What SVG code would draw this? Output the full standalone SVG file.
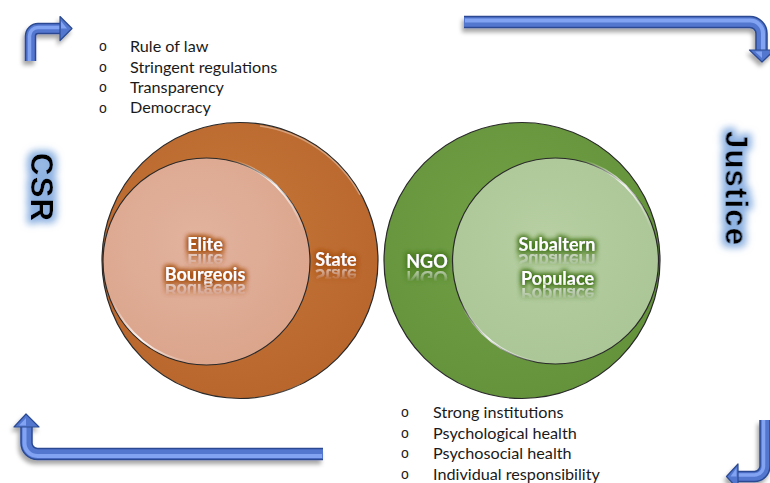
<svg xmlns="http://www.w3.org/2000/svg" width="770" height="483" viewBox="0 0 770 483">
<style>
.list{font-family:Lato,"Liberation Sans",sans-serif;font-size:16.2px;fill:#1a1a1a}
.bul{font-family:"Liberation Sans",sans-serif;font-size:14px;fill:#1a1a1a;text-anchor:middle}
.lbl{font-family:Lato,"Liberation Sans",sans-serif;font-weight:bold;font-size:18px;fill:#ffffff;text-anchor:middle}
.side{font-family:"Liberation Sans",Arial,sans-serif;font-weight:bold;font-size:31px;fill:#000;text-anchor:middle}
.ring{stroke:#2a2a2a;stroke-width:1.2}
.arrD{fill:none;stroke:#2c4a92;stroke-linejoin:round}
.arrM{fill:none;stroke:#5277cf;stroke-linejoin:round}
.arrL{fill:none;stroke:#82a3f2;stroke-linejoin:round}
</style>
<defs>
<radialGradient id="gOrange" cx="0.45" cy="0.4" r="0.65">
<stop offset="0" stop-color="#c67739"/><stop offset="1" stop-color="#b8652c"/>
</radialGradient>
<radialGradient id="gPeach" cx="0.45" cy="0.4" r="0.65">
<stop offset="0" stop-color="#e2b39e"/><stop offset="1" stop-color="#dba48b"/>
</radialGradient>
<radialGradient id="gGreen" cx="0.45" cy="0.4" r="0.65">
<stop offset="0" stop-color="#72a046"/><stop offset="1" stop-color="#63923b"/>
</radialGradient>
<radialGradient id="gLime" cx="0.45" cy="0.4" r="0.65">
<stop offset="0" stop-color="#b7cfa2"/><stop offset="1" stop-color="#aac596"/>
</radialGradient>
<linearGradient id="refl" x1="0" y1="0" x2="0" y2="1">
<stop offset="0.35" stop-color="#fff" stop-opacity="0"/>
<stop offset="0.85" stop-color="#fff" stop-opacity="0.75"/>
</linearGradient>
<linearGradient id="shine" x1="0" y1="0" x2="1" y2="1">
<stop offset="0" stop-color="#fff" stop-opacity="0"/>
<stop offset="0.5" stop-color="#fff" stop-opacity="0.9"/>
<stop offset="1" stop-color="#fff" stop-opacity="0"/>
</linearGradient>
<filter id="glowO" x="-30%" y="-60%" width="160%" height="220%">
<feMorphology in="SourceAlpha" operator="dilate" radius="1.2" result="d"/>
<feGaussianBlur in="d" stdDeviation="2.4" result="b"/>
<feFlood flood-color="#a95318"/>
<feComposite in2="b" operator="in" result="g"/>
<feMerge><feMergeNode in="g"/><feMergeNode in="g"/><feMergeNode in="SourceGraphic"/></feMerge>
</filter>
<filter id="glowG" x="-30%" y="-60%" width="160%" height="220%">
<feMorphology in="SourceAlpha" operator="dilate" radius="1.2" result="d"/>
<feGaussianBlur in="d" stdDeviation="2.4" result="b"/>
<feFlood flood-color="#4a7a24"/>
<feComposite in2="b" operator="in" result="g"/>
<feMerge><feMergeNode in="g"/><feMergeNode in="g"/><feMergeNode in="SourceGraphic"/></feMerge>
</filter>
<filter id="glowB" x="-60%" y="-40%" width="220%" height="180%">
<feMorphology in="SourceAlpha" operator="dilate" radius="4" result="d"/>
<feGaussianBlur in="d" stdDeviation="3.5" result="b"/>
<feFlood flood-color="#8fb3e2"/>
<feComposite in2="b" operator="in" result="g"/>
<feMerge><feMergeNode in="g"/><feMergeNode in="SourceGraphic"/></feMerge>
</filter>
<filter id="shadow" x="-20%" y="-20%" width="140%" height="160%">
<feDropShadow dx="-2" dy="4" stdDeviation="2" flood-color="#000" flood-opacity="0.35"/>
</filter>
</defs>
<rect width="770" height="483" fill="#ffffff"/>

<g id="connectors" filter="url(#shadow)">
<g id="arrow-top-left">
<path class="arrD" stroke-width="11.5" d="M30.5,61 V36 A7.5,7.5 0 0 1 38,28.5 H61"/>
<path class="arrM" stroke-width="8.5" d="M30.5,61 V36 A7.5,7.5 0 0 1 38,28.5 H61"/>
<path class="arrL" stroke-width="3.5" d="M29.5,61 V36 A8.5,8.5 0 0 1 38,27.5 H61"/>
<polygon points="60,16.5 72,28.5 60,40.5" fill="#5277cf" stroke="#2c4a92" stroke-width="1.2" stroke-linejoin="round"/>
<polygon points="61,21 67,28.5 61,28.5" fill="#82a3f2"/>
</g>
<g id="arrow-top-right">
<path class="arrD" stroke-width="12.5" d="M464,22 H750 A11.5,11.5 0 0 1 761.5,33.5 V50"/>
<path class="arrM" stroke-width="9.5" d="M464,22 H750 A11.5,11.5 0 0 1 761.5,33.5 V50"/>
<path class="arrL" stroke-width="4" d="M465,20.5 H750 A13,13 0 0 1 763,33.5 V50"/>
<polygon points="749.5,50 774.5,50 762,62" fill="#5277cf" stroke="#2c4a92" stroke-width="1.2" stroke-linejoin="round"/>
<polygon points="755,51.5 762,51.5 762,58" fill="#82a3f2"/>
</g>
<g id="arrow-bottom-left">
<path class="arrD" stroke-width="12.5" d="M323,454 H37.5 A11,11 0 0 1 26.5,443 V427"/>
<path class="arrM" stroke-width="9.5" d="M323,454 H37.5 A11,11 0 0 1 26.5,443 V427"/>
<path class="arrL" stroke-width="4" d="M322,456 H37.5 A13,13 0 0 1 24.5,443 V427"/>
<polygon points="14,427 39,427 26,414" fill="#5277cf" stroke="#2c4a92" stroke-width="1.2" stroke-linejoin="round"/>
<polygon points="19,425.5 26,425.5 26,418" fill="#82a3f2"/>
</g>
<g id="arrow-bottom-right">
<path class="arrD" stroke-width="11.5" d="M765,420 V466 A10.5,10.5 0 0 1 754.5,476.5 H738"/>
<path class="arrM" stroke-width="8.5" d="M765,420 V466 A10.5,10.5 0 0 1 754.5,476.5 H738"/>
<path class="arrL" stroke-width="3.5" d="M763.5,420 V466 A9,9 0 0 1 754.5,475 H738"/>
<polygon points="738,464 738,489 726.5,476.5" fill="#5277cf" stroke="#2c4a92" stroke-width="1.2" stroke-linejoin="round"/>
<polygon points="736.5,468 736.5,476.5 730.5,476.5" fill="#82a3f2"/>
</g>
</g>

<g id="list-top">
<text class="bul" x="103" y="51">o</text>
<text class="bul" x="103" y="72">o</text>
<text class="bul" x="103" y="92">o</text>
<text class="bul" x="103" y="113">o</text>
<text class="list" x="130" y="51.5">Rule of law</text>
<text class="list" x="130" y="72.5">Stringent regulations</text>
<text class="list" x="130" y="92.5">Transparency</text>
<text class="list" x="130" y="113">Democracy</text>
</g>

<g id="list-bottom">
<text class="bul" x="405" y="417">o</text>
<text class="bul" x="405" y="438">o</text>
<text class="bul" x="405" y="458">o</text>
<text class="bul" x="405" y="479">o</text>
<text class="list" x="433" y="417.5">Strong institutions</text>
<text class="list" x="433" y="438.5">Psychological health</text>
<text class="list" x="433" y="458.5">Psychosocial health</text>
<text class="list" x="433" y="479.5">Individual responsibility</text>
</g>

<g id="label-csr">
<text class="side" transform="translate(42,187) rotate(90)" x="0" y="11" textLength="68" lengthAdjust="spacing" filter="url(#glowB)">CSR</text>
</g>
<g id="label-justice">
<text class="side" transform="translate(736.5,188) rotate(90)" x="0" y="11" textLength="114" lengthAdjust="spacing" filter="url(#glowB)">Justice</text>
</g>

<g id="node-state">
<circle class="ring" cx="240" cy="260.5" r="138" fill="url(#gOrange)"/>
<path d="M118,330 A136,136 0 0 0 300,385" fill="none" stroke="url(#shine)" stroke-width="2" opacity="0.8"/>
<path d="M260,126 A136,136 0 0 1 360,195" fill="none" stroke="#fff" stroke-width="1.5" opacity="0.35"/>
<text class="lbl" x="336" y="266" filter="url(#glowO)">State</text>
<g opacity="0.7" filter="url(#glowO)"><text class="lbl" transform="matrix(1,0,0,-1,0,535)" x="336" y="266" style="fill:url(#refl)">State</text></g>
</g>

<g id="node-elite-bourgeois">
<circle class="ring" cx="206.5" cy="261.5" r="103.5" fill="url(#gPeach)"/>
<path d="M230,160 A102,102 0 0 1 303,230" fill="none" stroke="url(#shine)" stroke-width="2.5"/>
<path d="M112,300 A102,102 0 0 0 190,362" fill="none" stroke="url(#shine)" stroke-width="2"/>
<text class="lbl" x="205" y="251" filter="url(#glowO)">Elite</text>
<text class="lbl" x="205" y="281" filter="url(#glowO)">Bourgeois</text>
<g opacity="0.7" filter="url(#glowO)">
<text class="lbl" transform="matrix(1,0,0,-1,0,505)" x="205" y="251" style="fill:url(#refl)">Elite</text>
<text class="lbl" transform="matrix(1,0,0,-1,0,565)" x="205" y="281" style="fill:url(#refl)">Bourgeois</text>
</g>
</g>

<g id="node-ngo">
<circle class="ring" cx="522" cy="260.5" r="138" fill="url(#gGreen)"/>
<path d="M560,127 A136,136 0 0 1 655,215" fill="none" stroke="url(#shine)" stroke-width="2" opacity="0.8"/>
<text class="lbl" x="427" y="268" filter="url(#glowG)">NGO</text>
<g opacity="0.7" filter="url(#glowG)"><text class="lbl" transform="matrix(1,0,0,-1,0,539)" x="427" y="268" style="fill:url(#refl)">NGO</text></g>
</g>

<g id="node-subaltern-populace">
<circle class="ring" cx="555.5" cy="261" r="103" fill="url(#gLime)"/>
<path d="M580,160 A102,102 0 0 1 652,230" fill="none" stroke="url(#shine)" stroke-width="2.5"/>
<path d="M460,300 A102,102 0 0 0 540,362" fill="none" stroke="url(#shine)" stroke-width="2"/>
<text class="lbl" x="557" y="251" filter="url(#glowG)">Subaltern</text>
<text class="lbl" x="557.5" y="285" filter="url(#glowG)">Populace</text>
<g opacity="0.7" filter="url(#glowG)">
<text class="lbl" transform="matrix(1,0,0,-1,0,505)" x="557" y="251" style="fill:url(#refl)">Subaltern</text>
<text class="lbl" transform="matrix(1,0,0,-1,0,573)" x="557.5" y="285" style="fill:url(#refl)">Populace</text>
</g>
</g>
</svg>
